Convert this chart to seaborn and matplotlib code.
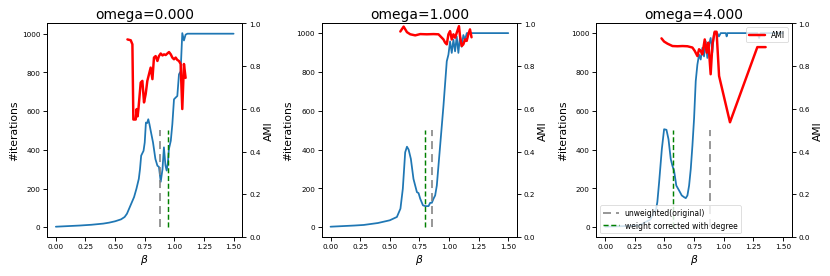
import matplotlib
matplotlib.use("Agg")
import matplotlib.pyplot as plt
import seaborn as sns

# ---------------- data ----------------
titles = ["omega=0.000", "omega=1.000", "omega=4.000"]

# panel 1 (omega = 0)
beta_it_0 = [0.00, 0.10, 0.20, 0.30, 0.40, 0.45, 0.50, 0.55, 0.58, 0.60, 0.63, 0.66,
             0.68, 0.70, 0.71, 0.72, 0.74, 0.75, 0.76, 0.77, 0.78, 0.79, 0.80, 0.82,
             0.84, 0.857, 0.87, 0.885, 0.90, 0.912, 0.925, 0.935, 0.945, 0.954, 0.97,
             0.983, 0.997, 1.011, 1.025, 1.039, 1.053, 1.067, 1.081, 1.095, 1.11,
             1.20, 1.30, 1.40, 1.50]
iters_0 = [3, 6, 9, 13, 19, 24, 31, 41, 53, 70, 113, 156,
           199, 250, 300, 370, 395, 438, 541, 538, 558, 532, 500, 438,
           353, 318, 312, 235, 300, 413, 320, 293, 330, 404, 447,
           532, 661, 670, 678, 790, 806, 1003, 965, 995, 1000,
           1000, 1000, 1000, 1000]
beta_ami_0 = [0.604, 0.632, 0.646, 0.654, 0.674, 0.682, 0.690, 0.697, 0.716, 0.730,
              0.744, 0.758, 0.772, 0.786, 0.800, 0.815, 0.828, 0.842, 0.857, 0.870,
              0.885, 0.900, 0.913, 0.927, 0.941, 0.955, 0.970, 0.983, 0.997, 1.011,
              1.025, 1.039, 1.053, 1.067, 1.081, 1.095]
ami_0 = [0.925, 0.921, 0.902, 0.550, 0.550, 0.599, 0.565, 0.600, 0.723, 0.731,
         0.630, 0.669, 0.731, 0.762, 0.793, 0.739, 0.840, 0.847, 0.824, 0.847,
         0.859, 0.850, 0.855, 0.852, 0.859, 0.866, 0.855, 0.840, 0.832, 0.840,
         0.829, 0.824, 0.810, 0.599, 0.810, 0.745]

# panel 2 (omega = 1)
beta_it_1 = [0.00, 0.10, 0.20, 0.28, 0.40, 0.50, 0.56, 0.59, 0.61, 0.63, 0.645, 0.659,
             0.678, 0.70, 0.729, 0.743, 0.757, 0.78, 0.80, 0.827, 0.841, 0.855, 0.869,
             0.883, 0.897, 0.925, 0.953, 0.981, 0.995, 1.009, 1.023, 1.037, 1.051,
             1.065, 1.079, 1.093, 1.107, 1.121, 1.135, 1.15, 1.25, 1.35, 1.50]
iters_1 = [3, 6, 9, 12, 22, 36, 53, 96, 198, 386, 415, 400,
           352, 249, 181, 176, 147, 113, 109, 109, 126, 126, 147,
           164, 215, 420, 625, 855, 889, 957, 898, 966, 906,
           983, 898, 983, 930, 990, 966, 1000, 1000, 1000, 1000]
beta_ami_1 = [0.589, 0.617, 0.645, 0.673, 0.715, 0.757, 0.813, 0.869, 0.911, 0.953,
              0.967, 0.981, 0.995, 1.009, 1.023, 1.037, 1.051, 1.065, 1.084, 1.093,
              1.107, 1.121, 1.135, 1.149, 1.163, 1.177, 1.19]
ami_1 = [0.962, 0.985, 0.959, 0.949, 0.944, 0.950, 0.949, 0.950, 0.949, 0.925,
         0.910, 0.902, 0.949, 0.964, 0.925, 0.949, 0.933, 0.956, 0.987, 0.940,
         0.894, 0.902, 0.925, 0.918, 0.949, 0.972, 0.935]

# panel 3 (omega = 4)
beta_it_2 = [0.00, 0.10, 0.20, 0.29, 0.38, 0.43, 0.44, 0.455, 0.478, 0.497, 0.517,
             0.534, 0.553, 0.567, 0.581, 0.60, 0.624, 0.646, 0.666, 0.68, 0.694,
             0.708, 0.722, 0.736, 0.75, 0.764, 0.778, 0.792, 0.806, 0.82, 0.834,
             0.848, 0.862, 0.876, 0.89, 0.904, 0.918, 0.946, 0.96, 0.975, 1.018,
             1.025, 1.032, 1.10, 1.20, 1.285, 1.299, 1.31, 1.40, 1.50]
iters_2 = [3, 5, 7, 10, 40, 95, 130, 232, 403, 505, 502,
           454, 352, 317, 292, 215, 189, 164, 155, 150, 164,
           215, 300, 420, 560, 753, 838, 889, 864, 924, 880,
           957, 872, 940, 975, 900, 1000, 1000, 983, 1000, 1000,
           983, 1000, 1000, 1000, 1000, 975, 1000, 1000, 1000]
beta_ami_2 = [0.475, 0.497, 0.526, 0.568, 0.610, 0.652, 0.694, 0.736, 0.756, 0.778,
              0.792, 0.806, 0.820, 0.840, 0.857, 0.871, 0.890, 0.905, 0.924, 0.940,
              0.961, 1.053, 1.284, 1.354]
ami_2 = [0.930, 0.915, 0.905, 0.894, 0.893, 0.894, 0.893, 0.887, 0.871, 0.847,
         0.879, 0.871, 0.855, 0.925, 0.863, 0.910, 0.762, 0.902, 0.961, 0.961,
         0.754, 0.537, 0.889, 0.889]

beta_iters = [beta_it_0, beta_it_1, beta_it_2]
iters = [iters_0, iters_1, iters_2]
beta_amis = [beta_ami_0, beta_ami_1, beta_ami_2]
amis = [ami_0, ami_1, ami_2]

unweighted_beta = [0.875, 0.855, 0.885]
corrected_beta = [0.947, 0.795, 0.57]
vline_top = 500

# ---------------- plot ----------------
sns.set_theme(style="ticks")
plt.rcParams["font.family"] = ["DejaVu Sans"]
plt.rcParams.update({
    "axes.edgecolor": "black",
    "xtick.color": "black",
    "ytick.color": "black",
    "axes.labelcolor": "black",
    "text.color": "black",
    "xtick.labelsize": 9.5,
    "ytick.labelsize": 9.5,
    "axes.linewidth": 1.3,
    "xtick.major.width": 1.2,
    "ytick.major.width": 1.2,
    "xtick.major.size": 5,
    "ytick.major.size": 5,
})

fig, axes = plt.subplots(1, 3, figsize=(15, 5), dpi=830 / 15)
fig.subplots_adjust(left=0.0566, right=0.954, bottom=0.141, top=0.913, wspace=0.405)

for i, ax in enumerate(axes):
    sns.lineplot(x=beta_iters[i], y=iters[i], ax=ax, color="#1f77b4",
                 linewidth=2.3, estimator=None, legend=False)
    ax.vlines(unweighted_beta[i], 0, vline_top, colors="grey", linestyles=(0, (4, 2.5)),
              linewidth=2.6, alpha=0.8, label="unweighted(original)")
    ax.vlines(corrected_beta[i], 0, vline_top, colors="green", linestyles=(0, (3.5, 1.8)),
              linewidth=1.9, label="weight corrected with degree")
    ax.set_xlabel(r"$\beta$", fontsize=14)
    ax.set_ylabel("#iterations", fontsize=14)
    ax.set_title(titles[i], fontsize=18)
    ax.set_xticks([0.0, 0.25, 0.5, 0.75, 1.0, 1.25, 1.5])

    ax2 = ax.twinx()
    sns.lineplot(x=beta_amis[i], y=amis[i], ax=ax2, color="red", linewidth=3.2,
                 estimator=None, legend=False, label="AMI" if i == 2 else None)
    ax2.set_ylim(0, 1)
    ax2.set_ylabel("AMI", fontsize=14)
    ax2.tick_params(labelsize=9.5)
    if i == 2:
        ax.legend(loc="lower left", fontsize=10, handlelength=2)
        ax2.legend(loc="upper right", fontsize=10, handlelength=2)
    else:
        if ax2.get_legend() is not None:
            ax2.get_legend().remove()

fig.savefig("out.png", dpi=830 / 15)
